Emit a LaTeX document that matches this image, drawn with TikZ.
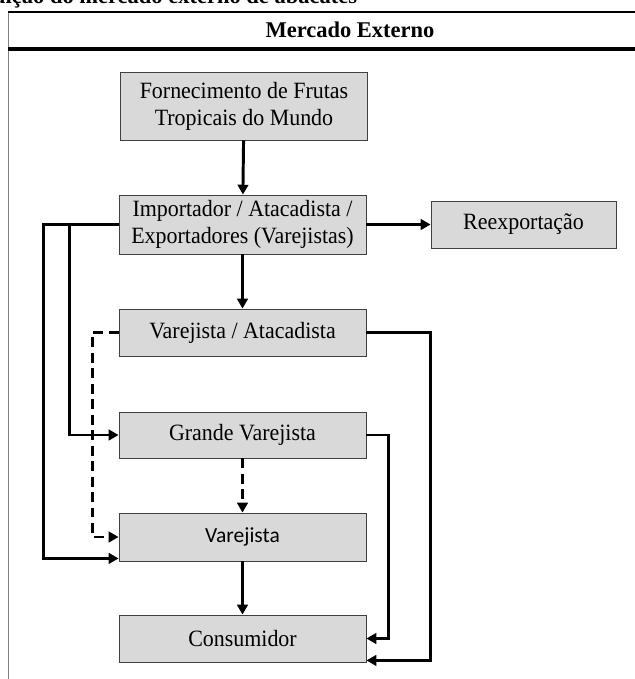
\documentclass[tikz,border=0pt]{standalone}
\usepackage{fontspec}
\setmainfont[FakeStretch=0.94]{Liberation Serif}
\newfontfamily\titulofont{Liberation Serif}
\newfontfamily\calibri{Carlito}
\usepackage{xcolor}
\usetikzlibrary{arrows.meta,positioning,calc}

\definecolor{caixacinza}{HTML}{D9D9D9}
\tikzset{
    caixa/.style={draw=black!75, line width=0.6pt, rectangle, fill=caixacinza, minimum width=6.175cm, inner sep=0pt, align=center, font=\fontsize{16.6}{19.2}\selectfont},
    seta/.style={line width=2.1pt, -{Triangle[length=7pt, width=7.5pt]}},
    tracejada/.style={seta, dash pattern=on 7pt off 4pt},
    titulo/.style={font=\titulofont\bfseries\fontsize{16}{19}\selectfont}
}

\begin{document}
\begin{tikzpicture}[x=0.025cm, y=-0.025cm]
    \useasboundingbox (0,0) rectangle (634,679);
    % cabecalho
    \node [titulo, anchor=base east] (leg) at (362,3.5) {Distribuição do mercado externo de abacates};
    \draw [black!50, line width=1.2pt] (8.5,690) -- (8.5,12);
    \draw [line width=0.8pt] (8,12) -- (650,12);
    \draw [line width=3pt] (8,49) -- (650,49);
    \node [titulo] (merc) at (350,30) {Mercado Externo};

    \node [caixa, minimum height=1.7cm] (forn) at (244,106) {Fornecimento de Frutas\\Tropicais do Mundo};
    \node [caixa, minimum height=1.475cm] (imp) at (242.5,224.5) {Importador / Atacadista /\\Exportadores (Varejistas)};
    \node [caixa, minimum width=4.625cm, minimum height=1.175cm] (reexp) at (523.5,224.5) {Reexportação};
    \node [caixa, minimum height=1.175cm] (varat) at (242.5,332.5) {Varejista / Atacadista};
    \node [caixa, minimum height=1.15cm] (grande) at (242.5,435) {Grande Varejista};
    \node [caixa, minimum height=1.2cm, font=\calibri\fontsize{15.3}{19}\selectfont] (varej) at (242.5,537) {Varejista};
    \node [caixa, minimum height=1.175cm] (cons) at (242.5,638.5) {Consumidor};

    \draw [seta] (forn) -- (imp);
    \draw [seta] (imp) -- (reexp);
    \draw [seta] (imp) -- (varat);
    \draw [tracejada] (grande) -- (varej);
    \draw [seta] (varej) -- (cons);
    % canais pela esquerda
    \draw [seta] (imp.west) -- ++(-75,0) |- ($(varej.south west)+(0,-3)$);
    \draw [seta] (imp.west) -- ++(-49,0) |- (grande.west);
    \draw [tracejada] (varat.west) -- ++(-26,0) |- (varej.west);
    % canais pela direita
    \draw [seta] (varat.east) -- ++(64,0) |- ($(cons.south east)+(0,-2)$);
    \draw [seta] (grande.east) -- ++(22,0) |- (cons.east);
\end{tikzpicture}
\end{document}
